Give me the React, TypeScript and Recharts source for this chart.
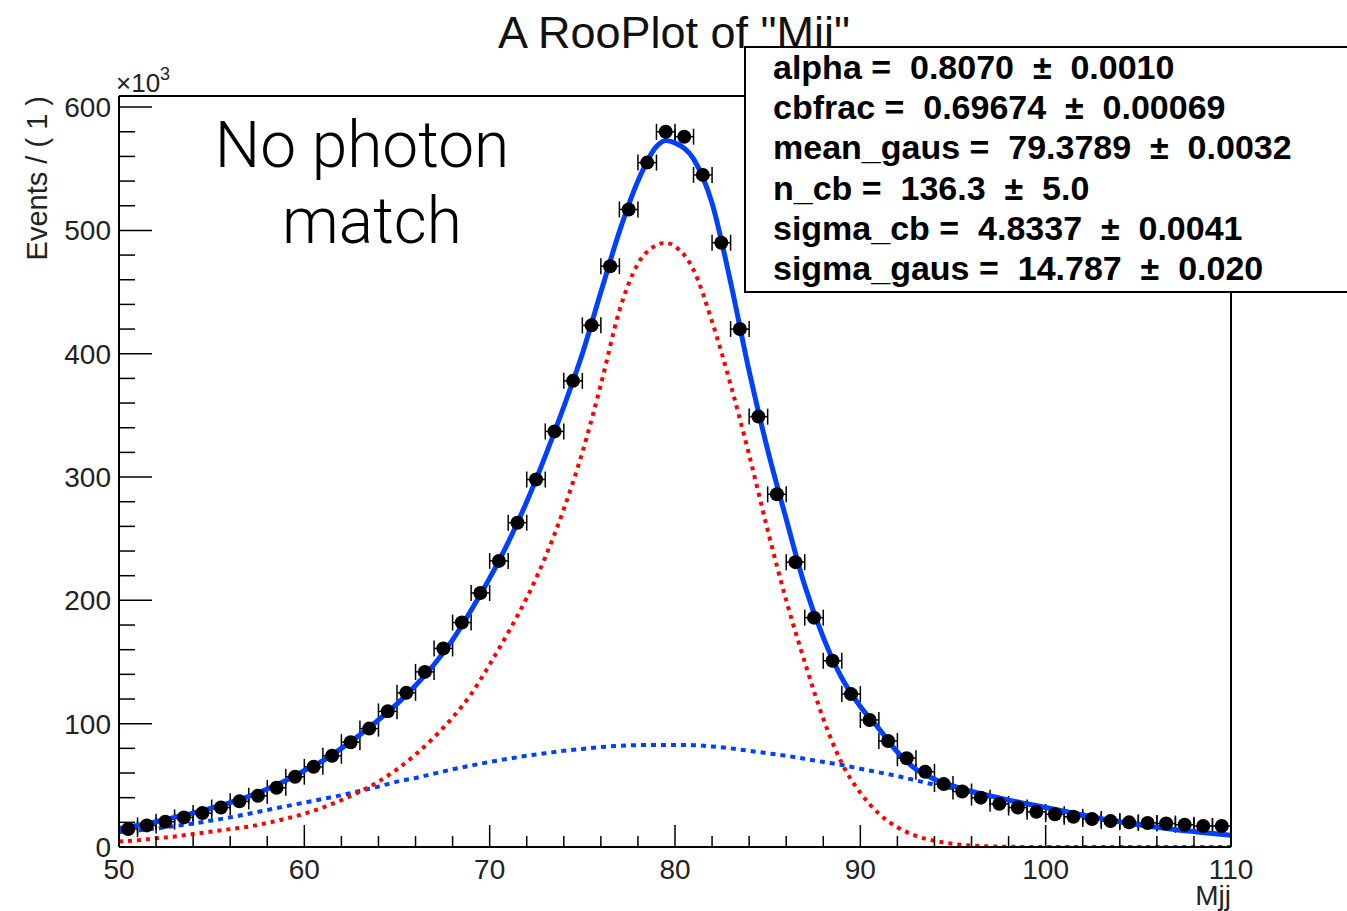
import React from "react";
import { ComposedChart, Line, Scatter, ErrorBar, XAxis, YAxis } from "recharts";

// binned data (units of 10^3 events), bin width 1
const binCenters = Array.from({ length: 60 }, (_, i) => 50.5 + i);
const events = [
  14.6, 17.5, 20.5, 24, 27.5, 32, 37, 41.5, 48, 57,
  65, 74, 85, 96, 110, 125, 142, 161, 182, 206,
  232, 263, 298, 337, 378, 423, 471, 517, 555, 580,
  576, 545, 490, 420, 349, 286, 231, 186, 151, 124,
  103, 86, 72, 61, 51, 45, 40, 35, 32, 28.5,
  26.5, 24.5, 22.7, 21, 20, 19.5, 19, 18, 17, 17,
];

// fit curves sampled on this grid
const fitX = [
  50, 51, 52, 53, 54, 55, 56, 57, 58, 59, 60, 61, 62, 63, 64, 65, 66, 67, 68, 69,
  70, 71, 72, 73, 74, 75, 76, 77, 78, 79, 79.5, 80, 81, 82, 83, 84, 85, 86, 87, 88,
  89, 90, 91, 92, 93, 94, 95, 96, 97, 98, 99, 100, 101, 102, 103, 104, 105, 106, 107, 108,
  109, 110,
];
const totalFit = [
  15, 17.5, 20.5, 24, 27.5, 31.5, 36, 41, 47, 54, 62, 70, 80, 91, 103, 116, 131, 148, 168, 192,
  218, 247, 280, 317, 357, 400, 450, 499, 540, 568, 573, 571, 558, 522, 458, 386, 322, 266, 212, 170,
  137, 114, 96, 77, 63, 55, 49.5, 45, 41.5, 38, 35, 32, 29, 26, 23, 20.5, 18, 16, 14, 12.5,
  11, 9.5,
];
const cbFit = [
  4.5, 5.5, 7, 8.5, 10.5, 12.5, 14.5, 16.5, 19.5, 23, 27, 32, 38, 45, 53, 63, 75, 89, 105, 124,
  148, 174, 202, 235, 274, 320, 375, 435, 473, 488, 490, 487, 468, 426, 375, 318, 257, 200, 150, 104,
  68, 44, 27, 16, 9, 5, 2.5, 1.2, 0.5, 0.2, 0, 0, 0, 0, 0, 0, 0, 0, 0, 0,
  0, 0,
];
const gausFit = [
  12, 13.5, 15, 17, 19, 21.5, 24, 27, 30, 33, 36, 39, 42, 45.5, 49, 53, 56, 59.5, 63, 66,
  69, 71.5, 74, 76, 78, 79.5, 81, 82, 82.6, 82.8, 82.8, 82.8, 82.6, 81.5, 80, 78, 76, 74, 71.5, 69,
  66.5, 63.5, 60.5, 57.5, 54, 50.5, 47.5, 44.5, 41.5, 38, 35, 32, 29, 26, 23, 20.5, 18, 16, 14, 12.5,
  11, 9.5,
];

const xTicks = Array.from({ length: 31 }, (_, i) => 50 + i * 2);
const yTicks = Array.from({ length: 31 }, (_, i) => i * 20);

const statLines = [
  "alpha =  0.8070  \u00b1  0.0010",
  "cbfrac =  0.69674  \u00b1  0.00069",
  "mean_gaus =  79.3789  \u00b1  0.0032",
  "n_cb =  136.3  \u00b1  5.0",
  "sigma_cb =  4.8337  \u00b1  0.0041",
  "sigma_gaus =  14.787  \u00b1  0.020",
];

const points = binCenters.map((x, i) => ({ x, y: events[i], ex: 0.5 }));
const fitData = fitX.map((x, i) => ({
  x,
  total: totalFit[i],
  cb: cbFit[i],
  gaus: gausFit[i],
}));

const FONT = "'Liberation Sans', Arial, Helvetica, sans-serif";

function XTick(props: any) {
  const { x, y, payload } = props;
  const major = payload.value % 10 === 0;
  return (
    <g>
      <line x1={x} x2={x} y1={y} y2={y - (major ? 22 : 11)} stroke="#000" strokeWidth={1.5} />
      {major && (
        <text x={x} y={y + 32} textAnchor="middle" fontSize={28} fontFamily={FONT} fill="#222">
          {payload.value}
        </text>
      )}
    </g>
  );
}

function YTick(props: any) {
  const { x, y, payload } = props;
  const major = payload.value % 100 === 0;
  return (
    <g>
      <line x1={x} x2={x + (major ? 33 : 16)} y1={y} y2={y} stroke="#000" strokeWidth={1.5} />
      {major && (
        <text x={x - 8} y={y + 10} textAnchor="end" fontSize={28} fontFamily={FONT} fill="#222">
          {payload.value}
        </text>
      )}
    </g>
  );
}

const Dot = (p: any) => <circle cx={p.cx} cy={p.cy} r={7} fill="#000" />;

export default function App() {
  return (
    <div style={{ position: "absolute", left: 0, top: 0, width: 1347, height: 911, background: "#fff" }}>
      <ComposedChart width={1347} height={911} margin={{ top: 0, right: 0, bottom: 0, left: 0 }}>
        <XAxis
          type="number"
          dataKey="x"
          domain={[50, 110]}
          ticks={xTicks}
          interval={0}
          tickSize={0}
          tickMargin={0}
          height={64}
          tick={XTick}
          axisLine={{ stroke: "#000", strokeWidth: 2 }}
          allowDataOverflow
        />
        <XAxis
          xAxisId="top"
          orientation="top"
          type="number"
          domain={[50, 110]}
          height={96}
          tick={false}
          tickLine={false}
          axisLine={{ stroke: "#000", strokeWidth: 2 }}
        />
        <YAxis
          type="number"
          domain={[0, 609]}
          ticks={yTicks}
          interval={0}
          tickSize={0}
          tickMargin={0}
          width={119}
          tick={YTick}
          axisLine={{ stroke: "#000", strokeWidth: 2 }}
          allowDataOverflow
        />
        <YAxis
          yAxisId="right"
          orientation="right"
          type="number"
          domain={[0, 609]}
          width={116}
          tick={false}
          tickLine={false}
          axisLine={{ stroke: "#000", strokeWidth: 2 }}
        />
        <Scatter data={points} dataKey="y" shape={Dot} isAnimationActive={false}>
          <ErrorBar dataKey="ex" direction="x" width={8} stroke="#000" strokeWidth={1.5} />
        </Scatter>
        <Line
          data={fitData}
          dataKey="gaus"
          type="monotone"
          stroke="#0040ff"
          strokeWidth={4}
          strokeDasharray="5 5"
          dot={false}
          isAnimationActive={false}
        />
        <Line
          data={fitData}
          dataKey="cb"
          type="monotone"
          stroke="#ff0000"
          strokeWidth={4}
          strokeDasharray="4 5"
          dot={false}
          isAnimationActive={false}
        />
        <Line
          data={fitData}
          dataKey="total"
          type="monotone"
          stroke="#0040ff"
          strokeWidth={5}
          dot={false}
          isAnimationActive={false}
        />
      </ComposedChart>

      <svg
        width={1347}
        height={911}
        style={{ position: "absolute", left: 0, top: 0, pointerEvents: "none" }}
        fontFamily={FONT}
      >
        <text x={674} y={48} textAnchor="middle" fontSize={45} fill="#111">
          A RooPlot of "Mjj"
        </text>
        <rect x={745} y={47} width={620} height={245} fill="#fff" stroke="#000" strokeWidth={2} />
        {statLines.map((s, i) => (
          <text
            key={s}
            x={773}
            y={79 + i * 40.2}
            fontSize={34}
            fontWeight="bold"
            fill="#000"
            style={{ whiteSpace: "pre" }}
          >
            {s}
          </text>
        ))}
        <text x={116} y={92} fontSize={26} fill="#222">
          {"\u00d710"}
          <tspan dy={-12} fontSize={18}>3</tspan>
        </text>
        <text transform="translate(47,96) rotate(-90)" textAnchor="end" fontSize={29} fill="#222">
          Events / ( 1 )
        </text>
        <text x={1231} y={905} textAnchor="end" fontSize={28} fill="#222">
          Mjj
        </text>
        <text
          x={362}
          y={167}
          textAnchor="middle"
          fontSize={64}
          fontWeight={300}
          fontFamily="Roboto, 'Liberation Sans', sans-serif"
          fill="#000"
        >
          No photon
        </text>
        <text
          x={372}
          y={243}
          textAnchor="middle"
          fontSize={64}
          fontWeight={300}
          fontFamily="Roboto, 'Liberation Sans', sans-serif"
          fill="#000"
        >
          match
        </text>
      </svg>
    </div>
  );
}
